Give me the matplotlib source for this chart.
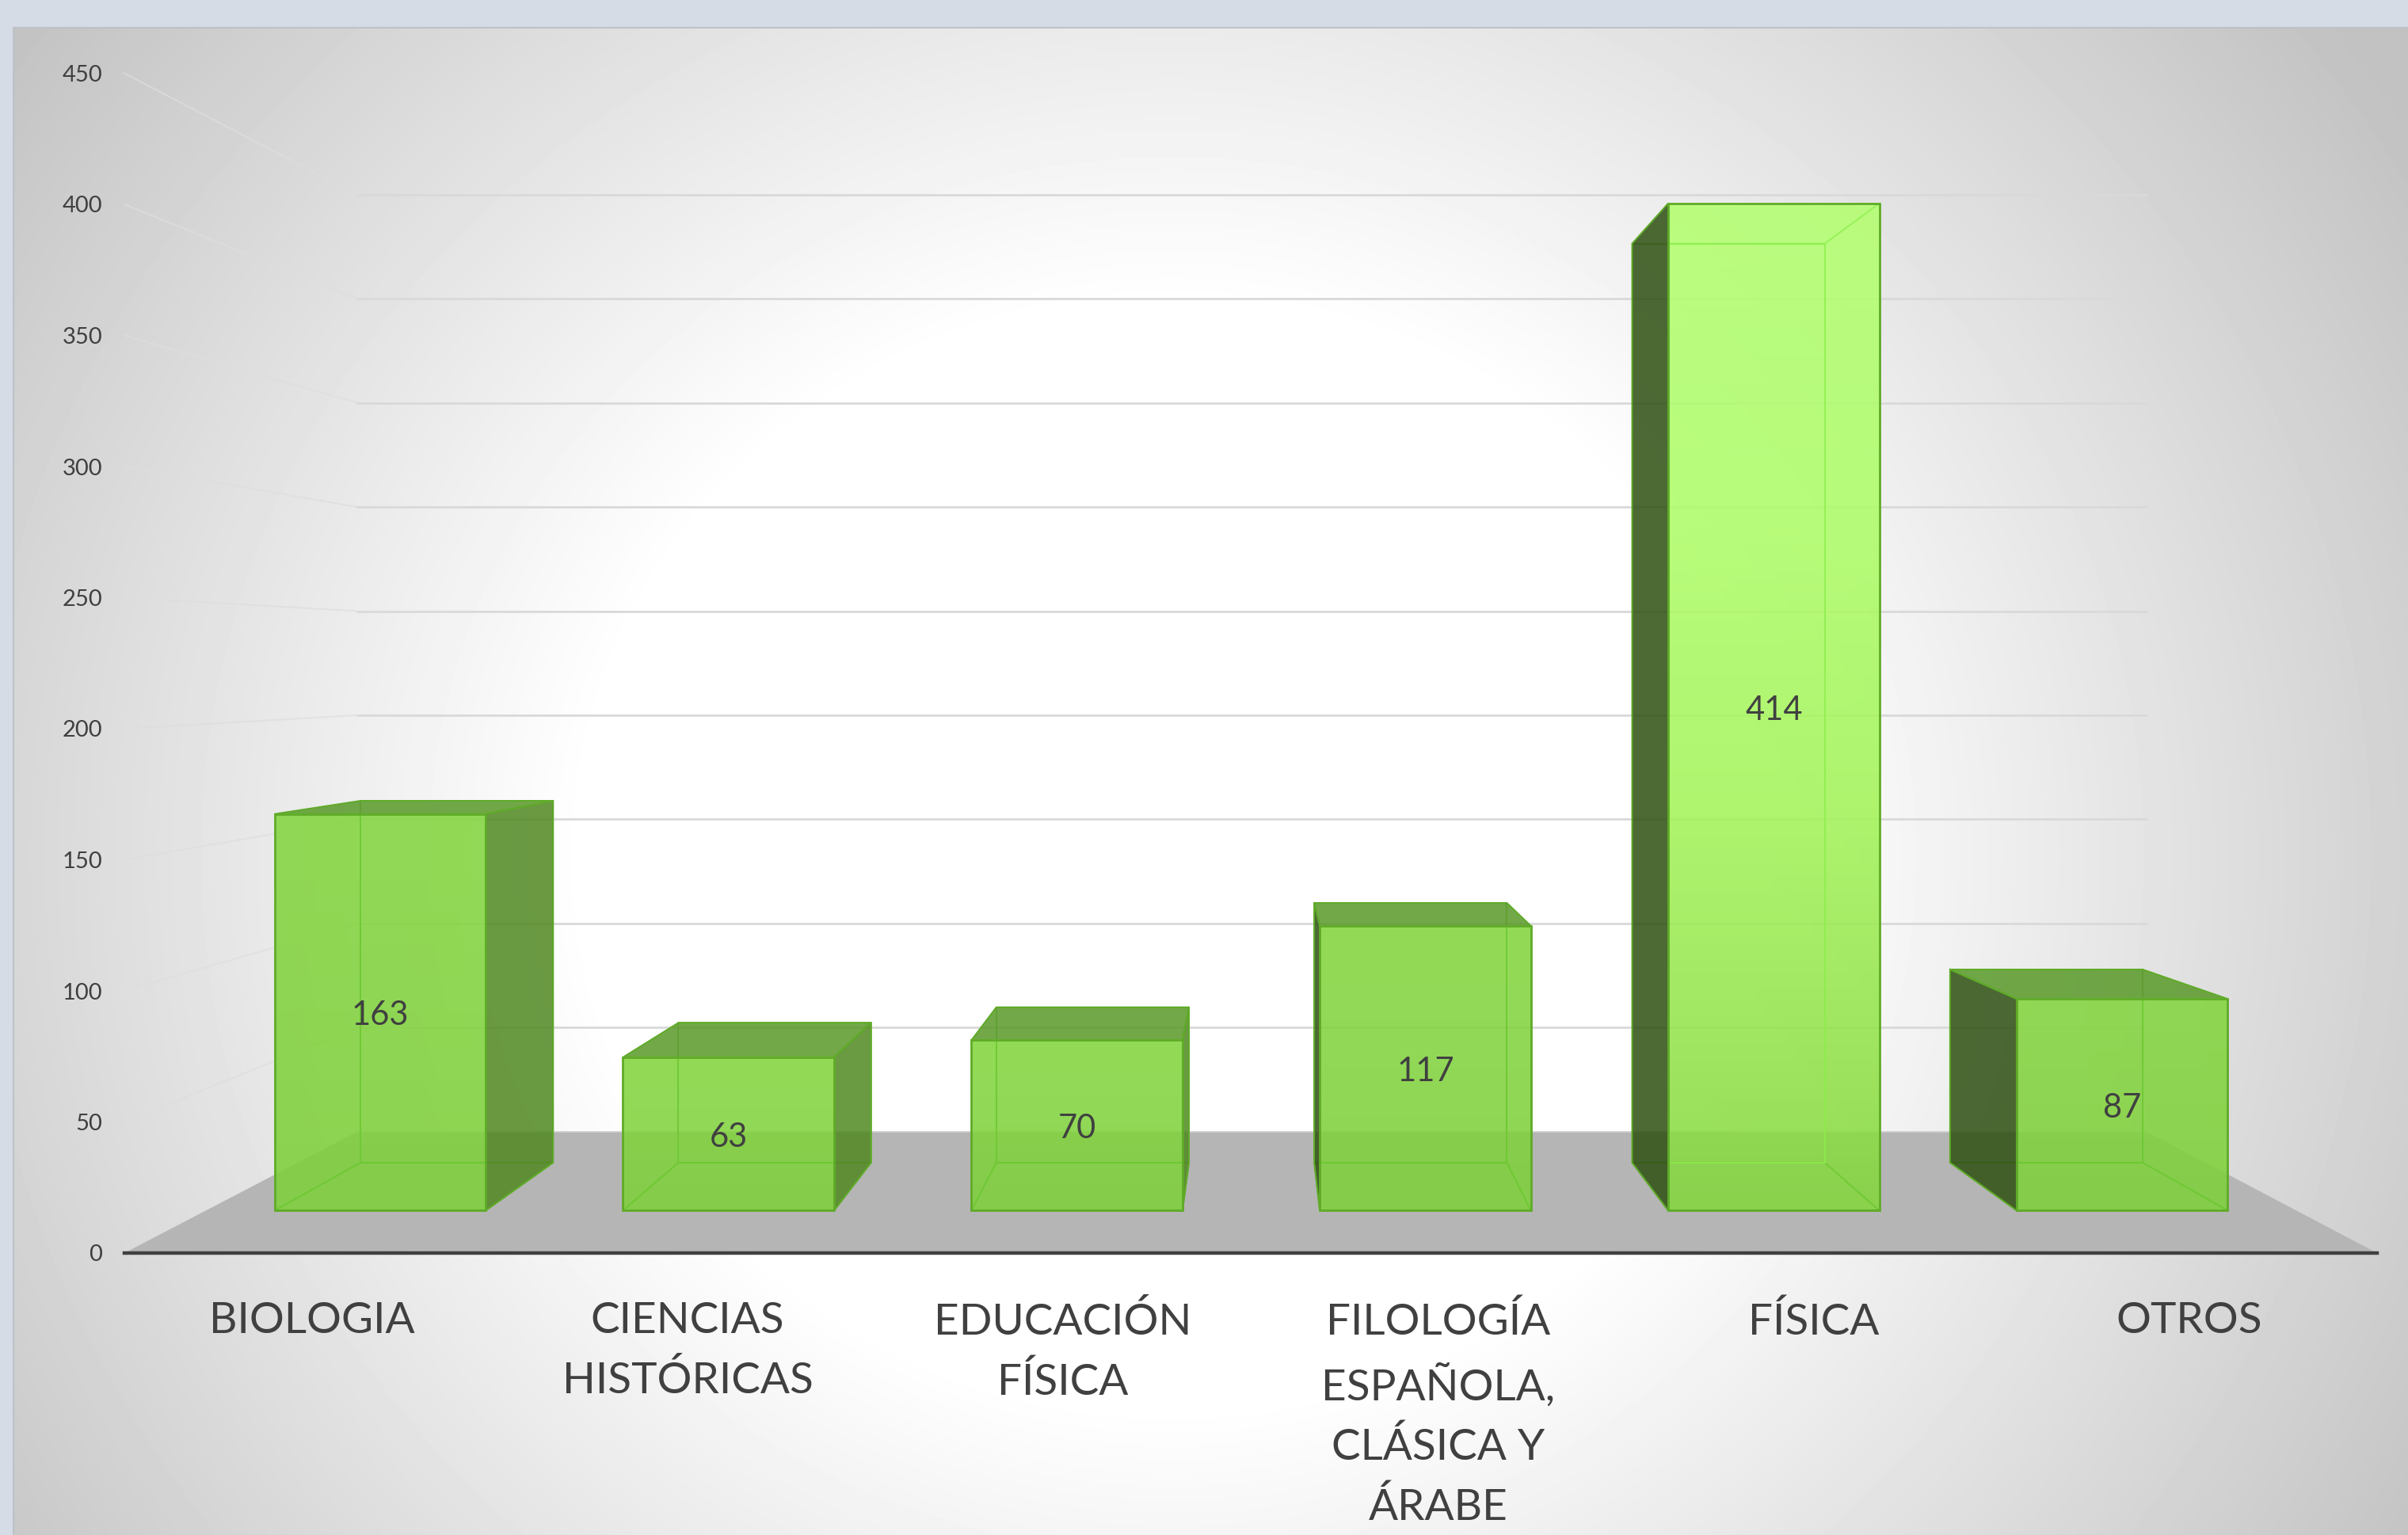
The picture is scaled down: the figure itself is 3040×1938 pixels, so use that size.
import numpy as np
import matplotlib
matplotlib.use("Agg")
import matplotlib.pyplot as plt
from matplotlib.patches import Polygon
from matplotlib.colors import LinearSegmentedColormap, to_rgba

categories = ["BIOLOGIA", "CIENCIAS\nHISTÓRICAS", "EDUCACIÓN\nFÍSICA",
              "FILOLOGÍA\nESPAÑOLA,\nCLÁSICA Y\nÁRABE", "FÍSICA", "OTROS"]
values = [163, 63, 70, 117, 414, 87]
yticks = [0, 50, 100, 150, 200, 250, 300, 350, 400, 450]

W, H = 3040, 1938
plt.rcParams['font.family'] = ['Lato', 'DejaVu Sans']
TXT = '#404040'
fig = plt.figure(figsize=(W / 100, H / 100), dpi=100, facecolor='#D6DCE6')

# --- chart-area background: radial gradient
L, T = 17, 35
bg = fig.add_axes([L / W, 0, 1 - L / W, 1 - T / H], zorder=0)
yy, xx = np.mgrid[T:H:400j, L:W:600j]
d = np.hypot((xx - 1480) / 1650, (yy - 1080) / 1550)
t = np.clip((d - 0.45) / (1.12 - 0.45), 0, 1)
g = 1 - t * 0.24
bg.imshow(np.clip(g, 0, 1), cmap='gray', vmin=0, vmax=1, aspect='auto',
          extent=[L, W, H, T], interpolation='bilinear')
bg.set_xticks([]); bg.set_yticks([])
for k, s in bg.spines.items():
    s.set_color('#BDC1C9'); s.set_linewidth(1.5)
    s.set_visible(k in ('top', 'left'))

# --- main axes: the front plane of the 3-D box
X0, X1, Y0, K = 157, 3001, 1582, 3.31
ymax = 450
ax = fig.add_axes([X0 / W, (H - Y0) / H, (X1 - X0) / W, ymax * K / H], zorder=1)
ax.patch.set_visible(False)
n = len(categories)
ax.set_xlim(0, n)
ax.set_ylim(0, ymax)
for k in ('top', 'left', 'right'):
    ax.spines[k].set_visible(False)
ax.spines['bottom'].set_color(TXT)
ax.spines['bottom'].set_linewidth(3.2)
ax.set_xticks(np.arange(n) + 0.5)
ax.set_xticklabels(categories, fontsize=39.5, color=TXT, linespacing=1.6)
ax.set_yticks(yticks)
ax.set_yticklabels([str(v) for v in yticks], fontsize=21, color=TXT)
ax.tick_params(axis='x', length=0, pad=44)
ax.tick_params(axis='y', length=0, pad=20)

# --- perspective: depth z=0 (front) .. z=1 (back wall), towards a vanishing point
VC, VV, PERSP = 3.015, 225.0, 0.2586
def proj(c, v, z):
    s = 1.0 / (1.0 + PERSP * z)
    return VC + (c - VC) * s, VV + (v - VV) * s

def face(points, clip=None, **kw):
    p = Polygon([proj(*q) for q in points], closed=True, clip_on=False, **kw)
    ax.add_patch(p)
    if clip is not None:
        p.set_clip_on(True)
        p.set_clip_path(clip)
    return p

# floor
face([(0, 0, 0), (n, 0, 0), (n, 0, 1), (0, 0, 1)], facecolor='#B5B5B5', edgecolor='none', zorder=1)
x0b, y0b = proj(0, 0, 1); x1b, _ = proj(n, 0, 1)
ax.plot([x0b, x1b], [y0b, y0b], color='#CFCFCF', lw=1.2, zorder=1.1, clip_on=False)

# gridlines: back wall + left wall
for v in yticks[1:]:
    a = proj(0, v, 1); b = proj(n, v, 1); c = proj(0, v, 0)
    ax.plot([a[0], b[0]], [a[1], b[1]], color='#D9D9D9', lw=2.0, zorder=1.2, clip_on=False)
    ax.plot([c[0], a[0]], [c[1], a[1]], color='#DEDEDE', lw=1.5, alpha=0.7, zorder=1.2, clip_on=False)

# bars
ZF, ZB, HW = 0.30, 0.70, 0.303
EDGE, INNER = '#5FAB28', '#6CC832'
RIGHT, LEFT_D, TOPC = '#508821', '#2E5012', '#599928'
tall = LinearSegmentedColormap.from_list('t', [(0, '#84D63E'), (0.12, '#90E048'),
                                               (0.4, '#A4F45A'), (0.7, '#AFFD6A'), (1, '#B4FF70')])
flat = LinearSegmentedColormap.from_list('f', [(0, '#7FD03C'), (1, '#84D640')])

for i, v in enumerate(values):
    a, b = i + 0.5 - HW, i + 0.5 + HW
    zo = 2 + i * 0.1
    back = [(a, 0, ZB), (b, 0, ZB), (b, v, ZB), (a, v, ZB)]
    bottom = [(a, 0, ZF), (b, 0, ZF), (b, 0, ZB), (a, 0, ZB)]
    front = [(a, 0, ZF), (b, 0, ZF), (b, v, ZF), (a, v, ZF)]
    topf = [(a, v, ZF), (b, v, ZF), (b, v, ZB), (a, v, ZB)]
    # faint back/bottom edges behind everything
    face(back, facecolor='none', edgecolor=EDGE, lw=1.3, alpha=0.7, zorder=zo)
    face(bottom, facecolor='none', edgecolor=EDGE, lw=1.3, alpha=0.7, zorder=zo)
    # side face towards the viewer
    if proj(a, 0, ZB)[0] < proj(a, 0, ZF)[0]:
        face([(a, 0, ZF), (a, 0, ZB), (a, v, ZB), (a, v, ZF)], facecolor=to_rgba(LEFT_D, 0.85),
             edgecolor=EDGE, lw=1.4, zorder=zo + 0.005)
    if proj(b, 0, ZB)[0] > proj(b, 0, ZF)[0]:
        face([(b, 0, ZF), (b, 0, ZB), (b, v, ZB), (b, v, ZF)], facecolor=to_rgba(RIGHT, 0.85),
             edgecolor=EDGE, lw=1.4, zorder=zo + 0.005)
    if v < VV:
        face(topf, facecolor=to_rgba(TOPC, 0.85), edgecolor=EDGE, lw=1.4, zorder=zo + 0.01)
    # front face with vertical gradient
    xa, ya = proj(a, 0, ZF); xb, yb = proj(b, v, ZF)
    cmap = tall if v > 300 else flat
    grad = np.linspace(1, 0, 256)[:, None]
    ax.imshow(grad, cmap=cmap, vmin=0, vmax=1, extent=[xa, xb, ya, yb], aspect='auto',
              alpha=0.88, zorder=zo + 0.02, interpolation='bilinear')
    fp = face(front, facecolor='none', edgecolor=EDGE, lw=2.0, zorder=zo + 0.04)
    # back and bottom edges seen through the front
    seen = '#8EF04E' if v > 300 else INNER
    face(bottom, clip=fp, facecolor='none', edgecolor=INNER, lw=1.4, alpha=0.8, zorder=zo + 0.03)
    face(back, clip=fp, facecolor='none', edgecolor=seen, lw=1.4, alpha=0.8, zorder=zo + 0.03)
    if v > VV:
        face(topf, clip=fp, facecolor='none', edgecolor=seen, lw=1.4, alpha=0.8, zorder=zo + 0.03)
    ax.annotate(str(v), xy=proj(i + 0.5, v / 2, ZF), xytext=(0, -3), textcoords='offset points',
                ha='center', va='center', fontsize=30, color=TXT, zorder=5)

ax.set_xlim(0, n)
ax.set_ylim(0, ymax)
fig.savefig('out.png', dpi=100, facecolor=fig.get_facecolor())
